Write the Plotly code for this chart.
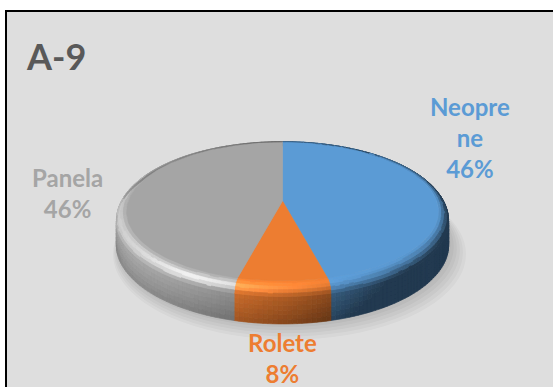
import math
import textwrap
import plotly.graph_objects as go

# ---- data -------------------------------------------------------------
categories = ["Neoprene", "Rolete", "Panela"]
values = [46, 8, 46]
title_text = "A-9"

# ---- styles / layout constants -----------------------------------------
slice_colors = ["#5B9BD5", "#ED7D31", "#A5A5A5"]
label_pos = [(470, 137), (282, 358), (67, 193)]   # pixel anchors of the data labels
W, H = 553, 387
BG = "#DEDEDE"
FONT = "Lato"

# 3-D pie geometry (pixel space)
CX, CY = 282.5, 201.0      # centre of the top face
A, B = 164.0, 72.0         # horizontal / vertical radii
Q = 0.162                  # perspective strength
DEPTH = 31.0               # rim thickness
BEV_R = 0.06               # bevel width (unit radius)
BEV_D = 8.0                # bevel height (px)
SIDE_TILT = math.radians(15)  # rim normal tilts downward toward the base


def norm(v):
    l = math.sqrt(sum(c * c for c in v))
    return tuple(c / l for c in v)


def dot(a, b):
    return sum(x * y for x, y in zip(a, b))


LIGHT = norm((-0.60, 0.70, -0.40))
VIEW = norm((0.0, 0.45, -0.90))
HALF = norm(tuple(l + v for l, v in zip(LIGHT, VIEW)))
AMB = 0.38
DIFF = (1 - AMB) / LIGHT[1]


def hex_rgb(h):
    h = h.lstrip("#")
    return tuple(int(h[i:i + 2], 16) for i in (0, 2, 4))


def shade(rgb, n):
    d = max(0.0, dot(n, LIGHT))
    s = max(0.0, dot(n, HALF)) ** 24
    f = AMB + DIFF * d
    out = [min(255.0, max(0.0, c * f + 255 * 0.18 * s)) for c in rgb]
    out = [min(255, int(round(c / 2.0) * 2)) for c in out]
    return "rgb(%d,%d,%d)" % tuple(out)


def project(theta, r=1.0, drop=0.0):
    X = r * math.sin(theta)
    Z = r * math.cos(theta)
    w = 1.0 / (1.0 + Q * Z)
    return CX + A * X * w, CY - B * Z * w + drop * w


def arc(t0, t1, step=math.radians(1.5)):
    n = max(2, int(math.ceil((t1 - t0) / step)) + 1)
    return [t0 + (t1 - t0) * i / (n - 1) for i in range(n)]


total = float(sum(values))
bounds = [0.0]
for v in values:
    bounds.append(bounds[-1] + 2 * math.pi * v / total)

vis0 = math.acos(-Q)
vis1 = 2 * math.pi - vis0
BEV_STEPS = 5
SIDE_STEPS = 6

fig = go.Figure()

# soft drop shadow beneath the pie
for k in range(6):
    ts = arc(0, 2 * math.pi, math.radians(4))
    pts = [project(t, 1.0 + 0.012 * k, DEPTH + 1.5 * k) for t in ts]
    fig.add_trace(go.Scatter(
        x=[p[0] + 2 + k for p in pts], y=[p[1] for p in pts],
        fill="toself", fillcolor="rgba(0,0,0,0.03)", mode="none",
        hoverinfo="skip", showlegend=False))

side_layer, bevel_layer = {}, {}
for i, color in enumerate(slice_colors):
    rgb = hex_rgb(color)
    t0, t1 = bounds[i], bounds[i + 1]
    ts = arc(t0, t1)
    # outer rim (front half only), shaded top-to-bottom
    a0, a1 = max(t0, vis0), min(t1, vis1)
    if a1 > a0:
        ss = arc(a0, a1)
        for ta, tb in zip(ss[:-1], ss[1:]):
            tm = 0.5 * (ta + tb)
            for j in range(SIDE_STEPS):
                f0 = j / SIDE_STEPS
                f1 = (j + 1) / SIDE_STEPS
                phi = math.pi / 2 + SIDE_TILT * (0.5 * (f0 + f1))
                n = (math.sin(phi) * math.sin(tm), math.cos(phi), math.sin(phi) * math.cos(tm))
                c = shade(rgb, n)
                d0 = BEV_D + (DEPTH - BEV_D) * f0
                d1 = BEV_D + (DEPTH - BEV_D) * f1
                pts = [project(ta, 1, d0), project(tb, 1, d0),
                       project(tb, 1, d1), project(ta, 1, d1)]
                side_layer.setdefault(c, []).append(pts)
    # rounded bevel between top face and rim
    for ta, tb in zip(ts[:-1], ts[1:]):
        tm = 0.5 * (ta + tb)
        for j in range(BEV_STEPS):
            p0 = (math.pi / 2) * j / BEV_STEPS
            p1 = (math.pi / 2) * (j + 1) / BEV_STEPS
            pm = 0.5 * (p0 + p1)
            n = (math.sin(pm) * math.sin(tm), math.cos(pm), math.sin(pm) * math.cos(tm))
            c = shade(rgb, n)
            r0 = 1 - BEV_R + BEV_R * math.sin(p0)
            r1 = 1 - BEV_R + BEV_R * math.sin(p1)
            d0 = BEV_D * (1 - math.cos(p0))
            d1 = BEV_D * (1 - math.cos(p1))
            pts = [project(ta, r0, d0), project(tb, r0, d0),
                   project(tb, r1, d1), project(ta, r1, d1)]
            bevel_layer.setdefault(c, []).append(pts)


def emit(layer):
    for c, polys in layer.items():
        xs, ys = [], []
        for pts in polys:
            xs += [p[0] for p in pts] + [pts[0][0], None]
            ys += [p[1] for p in pts] + [pts[0][1], None]
        fig.add_trace(go.Scatter(
            x=xs, y=ys, fill="toself", fillcolor=c, mode="lines",
            line=dict(color=c, width=0.7), hoverinfo="skip", showlegend=False))


emit(side_layer)
emit(bevel_layer)

# flat top faces
for i, color in enumerate(slice_colors):
    ts = arc(bounds[i], bounds[i + 1])
    pts = [(CX, CY)] + [project(t, 1 - BEV_R) for t in ts] + [(CX, CY)]
    fig.add_trace(go.Scatter(
        x=[p[0] for p in pts], y=[p[1] for p in pts], fill="toself",
        fillcolor=color, mode="lines", line=dict(color=color, width=0.6),
        hoverinfo="skip", showlegend=False, name=categories[i]))

# data labels
annotations = []
for i, cat in enumerate(categories):
    pct = round(values[i] / total * 100)
    lines = textwrap.wrap(cat, width=6, break_long_words=True)
    text = "<br>".join(lines + ["%d%%" % pct])
    x, y = label_pos[i]
    annotations.append(dict(
        x=x, y=y, xref="x", yref="y", text=text, showarrow=False,
        xanchor="center", yanchor="middle", align="center",
        font=dict(family=FONT, size=24, color=slice_colors[i], weight="bold")))

annotations.append(dict(
    x=56, y=56, xref="x", yref="y", text=title_text, showarrow=False,
    xanchor="center", yanchor="middle",
    font=dict(family=FONT, size=36, color="#595959", weight="bold")))

fig.update_layout(
    width=W, height=H, margin=dict(l=0, r=0, t=0, b=0),
    paper_bgcolor="white", plot_bgcolor="white",
    xaxis=dict(range=[0, W], visible=False, fixedrange=True),
    yaxis=dict(range=[H, 0], visible=False, fixedrange=True),
    showlegend=False,
    shapes=[dict(type="rect", xref="x", yref="y", x0=6, y0=11, x1=W + 40, y1=H + 40,
                 fillcolor=BG, line=dict(color="#000000", width=2), layer="below")],
    annotations=annotations,
)

fig.write_html("out.html")
